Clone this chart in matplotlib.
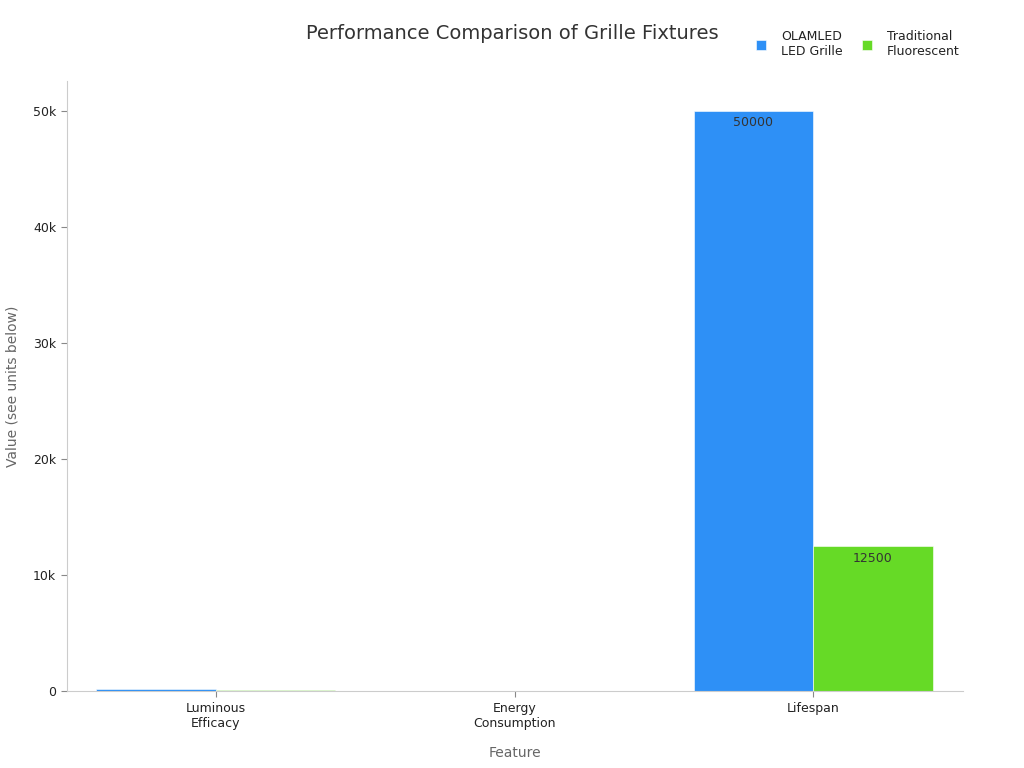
import matplotlib.pyplot as plt
import numpy as np
from matplotlib.ticker import FuncFormatter

features = ['Luminous\nEfficacy', 'Energy\nConsumption', 'Lifespan']
series_names = ['OLAMLED\nLED Grille', 'Traditional\nFluorescent']
olamled = [160, 20, 50000]
fluorescent = [90, 45, 12500]
colors = ['#2E90F6', '#66DA26']

fig = plt.figure(figsize=(10.24, 7.68), dpi=100)
ax = fig.add_axes([0.065, 0.10, 0.875, 0.795])

x = np.arange(len(features))
w = 0.4
b1 = ax.bar(x - w / 2, olamled, w, color=colors[0], edgecolor='white', linewidth=0.4, label=series_names[0])
b2 = ax.bar(x + w / 2, fluorescent, w, color=colors[1], edgecolor='white', linewidth=0.4, label=series_names[1])

# value labels only where the bar is tall enough to hold them
for bars, vals in [(b1, olamled), (b2, fluorescent)]:
    for rect, v in zip(bars, vals):
        if v > 5000:
            ax.annotate(str(v), (rect.get_x() + rect.get_width() / 2, v),
                        xytext=(0, -4), textcoords='offset points',
                        ha='center', va='top', fontsize=9, color='#333333')

ax.set_xlim(-0.5, 2.5)
ax.set_ylim(0, 52600)
ax.set_xticks(x)
ax.set_xticklabels(features, fontsize=9, color='#222222')
ax.set_yticks([0, 10000, 20000, 30000, 40000, 50000])
ax.yaxis.set_major_formatter(FuncFormatter(lambda v, p: '0' if v == 0 else f'{int(v/1000)}k'))
ax.tick_params(axis='y', labelsize=9, colors='#222222', length=4, color='#888888')
ax.tick_params(axis='x', length=4, color='#888888')

for s in ['top', 'right']:
    ax.spines[s].set_visible(False)
for s in ['left', 'bottom']:
    ax.spines[s].set_color('#cccccc')

ax.set_xlabel('Feature', fontsize=10, color='#666666', labelpad=12)
ax.set_ylabel('Value (see units below)', fontsize=10, color='#666666', labelpad=10)

fig.text(0.5, 0.957, 'Performance Comparison of Grille Fixtures', ha='center', va='center',
         fontsize=14, color='#333333')

leg = fig.legend(loc='upper right', bbox_to_anchor=(0.948, 0.975), ncol=2, frameon=False,
                 fontsize=9, handlelength=0.8, handleheight=0.8, columnspacing=1.5, handletextpad=1.2)
for t in leg.get_texts():
    t.set_color('#222222')

fig.savefig('out.png', dpi=100)
